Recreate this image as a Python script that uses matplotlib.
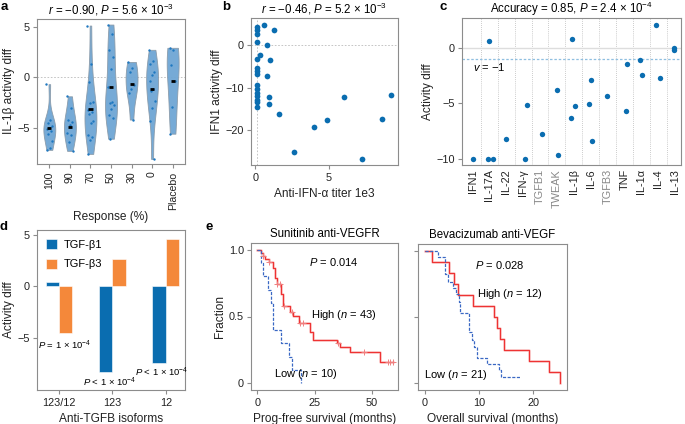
import matplotlib.pyplot as plt
import numpy as np

plt.rcParams['font.family'] = ['Liberation Sans', 'DejaVu Sans']
plt.rcParams['font.size'] = 7.5
plt.rcParams['mathtext.fontset'] = 'custom'
plt.rcParams['mathtext.rm'] = 'Liberation Sans'
plt.rcParams['mathtext.it'] = 'Liberation Sans:italic'
plt.rcParams['axes.edgecolor'] = '#8c8c8c'
plt.rcParams['axes.linewidth'] = 0.8
plt.rcParams['xtick.color'] = '#8c8c8c'
plt.rcParams['ytick.color'] = '#8c8c8c'
plt.rcParams['xtick.labelcolor'] = '#222222'
plt.rcParams['ytick.labelcolor'] = '#222222'
plt.rcParams['xtick.labelsize'] = 7.8
plt.rcParams['ytick.labelsize'] = 7.8
plt.rcParams['xtick.major.size'] = 3
plt.rcParams['ytick.major.size'] = 3
plt.rcParams['xtick.major.pad'] = 2.5
plt.rcParams['ytick.major.pad'] = 2
plt.rcParams['axes.labelcolor'] = '#222222'
plt.rcParams['axes.labelsize'] = 8.6
plt.rcParams['axes.titlesize'] = 8.3

BLUE = '#0a6db0'
ORANGE = '#f4883a'
RED = '#ee3333'

# ---- panel a: IL-1b activity by response group
response_groups = ['100', '90', '70', '50', '30', '0', 'Placebo']
il1b_points = [
    [-0.7, -4.2, -4.5, -4.8, -5.0, -5.1, -5.3, -5.6, -6.3, -7.0, -7.2],
    [-1.9, -3.1, -4.2, -4.4, -4.7, -5.5, -5.7, -6.4, -7.3],
    [5.1, 1.3, -0.5, -2.5, -2.6, -3.3, -3.5, -3.7, -4.3, -4.5, -5.7, -5.9, -6.2, -7.6],
    [5.2, 4.3, 2.7, 2.0, 0.8, -1.0, -2.5, -2.6, -2.8, -3.2, -3.8, -4.0, -6.1],
    [1.5, 0.9, 0.5, -0.8, -1.2, -1.6, -4.2],
    [2.7, 1.6, 1.3, 0.5, 0.2, -0.4, -1.2, -1.4, -2.4, -3.1, -4.3, -8.1],
    [2.9, 2.7, 1.2, -0.4, -3.0, -5.6],
]
il1b_medians = [-5.0, -4.9, -3.2, -1.0, -0.7, -1.2, -0.4]

# ---- panel b: IFN1 activity vs anti-IFN-a titer
titer = [0.1] * 15 + [0.6, 1.25, 0.8, 0.3, 0.98, 0.8, 0.93, 0.93, 1.6, 3.98,
                      4.93, 2.66, 6.07, 7.3, 8.68, 9.3]
ifn1_diff = [4.2, 3.5, 2.5, 0.6, -3.2, -5.3, -6.1, -6.7, -9.3, -10.4, -11.2,
             -12.0, -12.9, -13.3, -14.5, 4.7, 3.6, 0.1, -2.4, -3.5, -7.3,
             -12.2, -13.8, -16.3, -19.2, -17.6, -25.1, -12.3, -26.7, -17.5, -11.8]

# ---- panel c: activity diff per targeted cytokine
cytokines = ['IFN1', 'IL-17A', 'IL-22', 'IFN-γ', 'TGFB1', 'TWEAK', 'IL-1β',
             'IL-6', 'TGFB3', 'TNF', 'IL-1α', 'IL-4', 'IL-13']
gray_cytokines = ['TGFB1', 'TWEAK', 'TGFB3']
c_cat = [0, 1, 1, 1, 2, 3, 3, 4, 5, 5, 6, 6, 6, 7, 7, 7, 8, 9, 9, 10, 10, 11, 11, 12, 12]
c_val = [-10, 0.57, -10, -10, -8.2, -10, -5.2, -7.8, -3.8, -9.7, 0.75, -5.3,
         -6.3, -2.9, -5.1, -8.4, -4.4, -1.45, -5.7, -1.1, -2.5, 2.05, -2.7, 0.0, -0.25]
c_jitter = [0, -0.01, -0.11, 0.23, -0.02, 0.1, 0.2, 0.1, 0.0, 0.05, -0.1, 0.07,
            -0.15, 0.0, -0.1, 0.07, -0.02, 0.15, 0.07, -0.1, 0.06, -0.1, 0.1, -0.04, -0.04]

# ---- panel d: anti-TGFB isoforms
isoforms = ['123/12', '123', '12']
tgfb1 = [0.4, -8.3, -7.45]
tgfb3 = [-4.5, 2.7, 4.6]

# ---- panel e: survival curves
sun_high_t = [0, 1.5, 2.6, 3.3, 5.2, 6.7, 7.7, 8.4, 10.4, 11.1, 14.3, 15.5, 18.3,
              23.0, 24.5, 34.9, 36.1, 40.5, 53.6, 59.4]
sun_high_s = [1.0, 0.977, 0.953, 0.93, 0.907, 0.86, 0.79, 0.74, 0.67, 0.575, 0.537,
              0.505, 0.455, 0.387, 0.325, 0.30, 0.275, 0.237, 0.162, 0.162]
sun_high_cens = [2.6, 5.2, 8.6, 9.9, 11.6, 15.0, 18.6, 20.0, 35.3, 46.8, 57.2, 58.2, 59.2]
sun_low_t = [0, 1.5, 2.6, 4.5, 5.8, 7.0, 10.2, 14.0, 15.2, 18.9]
sun_low_s = [1.0, 0.9, 0.8, 0.7, 0.6, 0.4, 0.3, 0.2, 0.1, 0.0]
bev_high_t = [0, 1.23, 4.5, 5.4, 6.15, 8.9, 12.8, 13.2, 13.9, 14.6, 19.1, 22.8, 24.9]
bev_high_s = [1.0, 0.917, 0.833, 0.75, 0.667, 0.583, 0.5, 0.417, 0.333, 0.25,
              0.167, 0.083, 0.0]
bev_low_t = [0, 2.3, 3.6, 3.7, 4.2, 5.2, 5.8, 6.2, 6.5, 8.1, 8.6, 9.0, 9.5, 11.4,
             13.7, 14.0, 17.7]
bev_low_s = [1.0, 0.955, 0.905, 0.825, 0.76, 0.72, 0.675, 0.61, 0.53, 0.39, 0.325,
             0.275, 0.19, 0.145, 0.1, 0.05, 0.05]

W, H = 685, 424
fig = plt.figure(figsize=(W / 100, H / 100), dpi=100)


def add_ax(l, t, r, b):
    return fig.add_axes([l / W, 1 - b / H, (r - l) / W, (b - t) / H])


def letter(x, y, s):
    fig.text(x / W, 1 - y / H, s, fontsize=9.5, fontweight='bold', va='top', ha='left')


# ---------------- a
ax = add_ax(37, 19, 185, 164)
pos = np.arange(len(response_groups))
vp = ax.violinplot(il1b_points, positions=pos, widths=0.58, showextrema=False)
for body in vp['bodies']:
    body.set_facecolor('#6fa6d4')
    body.set_edgecolor('#8a9aa8')
    body.set_linewidth(0.6)
    body.set_alpha(0.95)
for i, pts in enumerate(il1b_points):
    jit = ((np.arange(len(pts)) * 0.618) % 1 - 0.5) * 0.3
    ax.scatter(i + jit, pts, s=3, color='#1f78c0', zorder=3, linewidths=0)
    ax.plot([i - 0.1, i + 0.1], [il1b_medians[i]] * 2, color='black', lw=2, zorder=4,
            solid_capstyle='butt')
ax.axhline(0, color='#bbbbbb', lw=0.6, ls=(0, (2, 2)), zorder=0)
ax.set_xlim(-0.6, 6.6)
ax.set_ylim(-8.6, 5.75)
ax.set_yticks([5, 0, -5])
ax.set_xticks(pos)
ax.set_xticklabels(response_groups, rotation=90, fontsize=7.6)
ax.set_xlabel('Response (%)', labelpad=1)
ax.set_ylabel('IL-1β activity diff', labelpad=2)
ax.set_title(r'$r$ = −0.90, $P$ = 5.6 × 10$^{-3}$', pad=3)
letter(1, 1, 'a')

# ---------------- b
ax = add_ax(251, 18, 398, 165)
ax.scatter(titer, ifn1_diff, s=17, color=BLUE, linewidths=0, zorder=3)
ax.axhline(0, color='#bbbbbb', lw=0.6, ls=(0, (2, 2)), zorder=0)
ax.axvline(0.1, color='#bbbbbb', lw=0.6, ls=(0, (2, 2)), zorder=0)
ax.set_xlim(-0.3, 9.75)
ax.set_ylim(-28.2, 6.35)
ax.set_xticks([0, 5])
ax.set_yticks([0, -10, -20])
ax.set_xlabel('Anti-IFN-α titer 1e3')
ax.set_ylabel('IFN1 activity diff', labelpad=2)
ax.set_title(r'$r$ = −0.46, $P$ = 5.2 × 10$^{-3}$', pad=3)
letter(222, 1, 'b')

# ---------------- c
ax = add_ax(462, 18, 681, 165)
cx = np.array(c_cat) + np.array(c_jitter)
ax.scatter(cx, c_val, s=15, color=BLUE, linewidths=0, zorder=3)
for k in range(len(cytokines) - 1):
    ax.axvline(k + 0.5, color='#bbbbbb', lw=0.6, ls=(0, (1, 1.5)), zorder=0)
ax.axhline(0, color='#dddddd', lw=1, zorder=0)
ax.axhline(-1, color='#8fbfe0', lw=0.9, ls=(0, (2, 1.5)), zorder=1)
ax.text(0.0, -1.75, r'$v$ = −1', fontsize=8, va='center', ha='left')
ax.set_xlim(-0.63, 12.36)
ax.set_ylim(-10.57, 2.67)
ax.set_yticks([0, -5, -10])
ax.set_xticks(range(len(cytokines)))
ax.set_xticklabels(cytokines, rotation=90)
ax.tick_params(axis='x', length=0, pad=3)
for lab in ax.get_xticklabels():
    if lab.get_text() in gray_cytokines:
        lab.set_color('#888888')
ax.set_ylabel('Activity diff', labelpad=2)
ax.set_title(r'Accuracy = 0.85, $P$ = 2.4 × 10$^{-4}$', pad=3)
letter(440, 1, 'c')

# ---------------- d
ax = add_ax(37, 230, 185, 390)
xi = np.arange(len(isoforms))
ax.bar(xi - 0.125, tgfb1, width=0.25, color=BLUE, edgecolor='white', lw=0.4, label='TGF-β1')
ax.bar(xi + 0.125, tgfb3, width=0.25, color=ORANGE, edgecolor='white', lw=0.4, label='TGF-β3')
ax.text(0.1, -5.1, r'$P$ = 1 × 10$^{-4}$', fontsize=6.8, ha='center', va='top')
ax.text(0.95, -8.7, r'$P$ < 1 × 10$^{-4}$', fontsize=6.8, ha='center', va='top')
ax.text(1.93, -7.7, r'$P$ < 1 × 10$^{-4}$', fontsize=6.8, ha='center', va='top')
ax.set_xlim(-0.41, 2.36)
ax.set_ylim(-10.1, 5.5)
ax.set_yticks([5, 0, -5])
ax.set_xticks(xi)
ax.set_xticklabels(isoforms)
ax.set_xlabel('Anti-TGFB isoforms')
ax.set_ylabel('Activity diff', labelpad=2)
ax.legend(loc='upper left', frameon=False, handlelength=1.0, handleheight=1.0,
          handletextpad=0.6, labelspacing=0.8, borderaxespad=0.4, fontsize=8)
letter(0, 221, 'd')


# ---------------- e
def km(ax, t, s, color, ls, lw):
    ax.step(t, s, where='post', color=color, ls=ls, lw=lw)


ax = add_ax(251, 243, 398, 390)
km(ax, sun_high_t, sun_high_s, '#fbd0d0', '-', 1.8)
km(ax, sun_high_t, sun_high_s, RED, '-', 0.9)
km(ax, sun_low_t, sun_low_s, '#3a68c4', (0, (2.5, 1.2)), 0.9)
cens_s = [sun_high_s[np.searchsorted(sun_high_t, c, side='right') - 1] for c in sun_high_cens]
ax.scatter(sun_high_cens, cens_s, marker='+', s=16, color='#f08080', linewidths=0.7, zorder=3)
ax.text(33.5, 0.91, r'$P$ = 0.014', ha='center', va='center', fontsize=8)
ax.text(37.9, 0.51, r'High ($n$ = 43)', ha='center', va='center', fontsize=8)
ax.text(21.3, 0.07, r'Low ($n$ = 10)', ha='center', va='center', fontsize=8)
ax.set_xlim(-2.8, 61.5)
ax.set_ylim(-0.05, 1.05)
ax.set_xticks([0, 25, 50])
ax.set_yticks([0, 0.5, 1.0])
ax.set_yticklabels(['0', '0.5', '1.0'])
ax.set_xlabel('Prog-free survival (months)')
ax.set_ylabel('Fraction', labelpad=2)
ax.set_title('Sunitinib anti-VEGFR', pad=4)
letter(206, 221, 'e')

ax = add_ax(418, 244, 567, 390)
km(ax, bev_high_t, bev_high_s, '#fbd0d0', '-', 1.8)
km(ax, bev_high_t, bev_high_s, RED, '-', 0.9)
km(ax, bev_low_t, bev_low_s, '#3a68c4', (0, (2.5, 1.2)), 0.9)
ax.text(13.8, 0.89, r'$P$ = 0.028', ha='center', va='center', fontsize=8)
ax.text(15.7, 0.67, r'High ($n$ = 12)', ha='center', va='center', fontsize=8)
ax.text(5.7, 0.06, r'Low ($n$ = 21)', ha='center', va='center', fontsize=8)
ax.set_xlim(-1.3, 26.2)
ax.set_ylim(-0.05, 1.05)
ax.set_xticks([0, 10, 20])
ax.set_yticks([0, 0.5, 1.0])
ax.set_yticklabels([])
ax.set_xlabel('Overall survival (months)')
ax.set_title('Bevacizumab anti-VEGF', pad=4)

fig.savefig('out.png', dpi=100)
